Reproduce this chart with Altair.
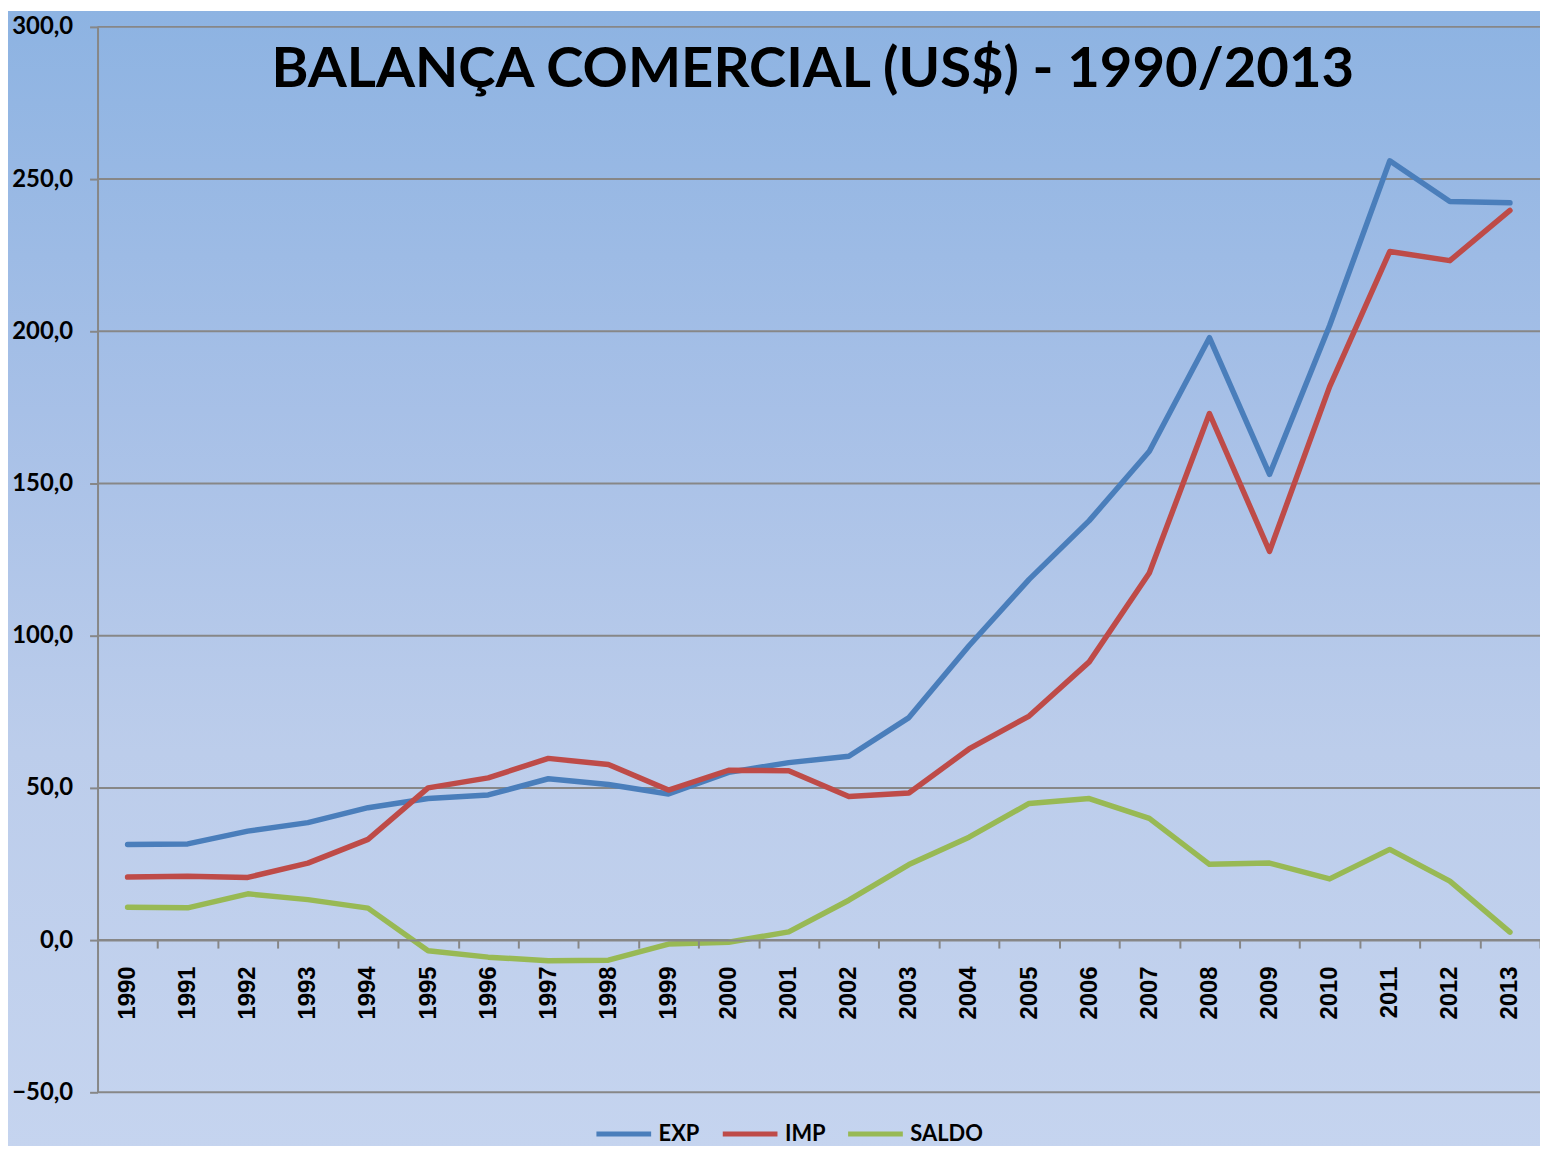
import altair as alt
import pandas as pd

anos = [str(a) for a in range(1990, 2014)]
exp_vals = [31.4, 31.6, 35.8, 38.6, 43.5, 46.5, 47.7, 53.0, 51.1, 48.0, 55.1, 58.3,
            60.4, 73.1, 96.7, 118.5, 137.8, 160.6, 197.9, 153.0, 201.9, 256.0, 242.6, 242.2]
imp_vals = [20.7, 21.0, 20.6, 25.3, 33.1, 50.0, 53.3, 59.7, 57.7, 49.3, 55.8, 55.6,
            47.2, 48.3, 62.8, 73.6, 91.4, 120.6, 173.0, 127.7, 181.8, 226.2, 223.2, 239.7]
saldo_vals = [10.8, 10.6, 15.2, 13.3, 10.5, -3.5, -5.6, -6.8, -6.6, -1.3, -0.7, 2.7,
              13.1, 24.8, 33.8, 44.9, 46.5, 40.0, 24.9, 25.3, 20.1, 29.8, 19.4, 2.6]
series = ["EXP", "IMP", "SALDO"]
cores = ["#4a7ebb", "#be4b48", "#98b954"]
y_ticks = [-50, 0, 50, 100, 150, 200, 250, 300]
titulo = "BALANÇA COMERCIAL (US$) - 1990/2013"

rows = []
for s, vals in zip(series, [exp_vals, imp_vals, saldo_vals]):
    for a, v in zip(anos, vals):
        rows.append({"Ano": a, "Serie": s, "Valor": v})
df = pd.DataFrame(rows)

W, H = 1450, 1071
GRAY = "#878787"
yscale = alt.Scale(domain=[-50, 300], nice=False, zero=False)
yaxis = alt.Axis(
    title=None, values=y_ticks, zindex=1, grid=False,
    domain=True, domainColor=GRAY, domainWidth=2,
    ticks=True, tickSize=8, tickWidth=2, tickColor=GRAY,
    labelFont="Lato", labelFontWeight="bold", labelFontSize=24,
    labelColor="black", labelPadding=17, labelOverlap=False,
    labelExpr="replace(format(datum.value, '.1f'), '.', ',')",
)

gradient = {
    "gradient": "linear",
    "x1": 0, "y1": 0, "x2": 0, "y2": 1,
    "stops": [
        {"offset": 0, "color": "#8db3e2"},
        {"offset": 0.35, "color": "#a7c0e7"},
        {"offset": 0.65, "color": "#bccdeb"},
        {"offset": 1, "color": "#c5d4ef"},
    ],
}

bg = alt.Chart(pd.DataFrame({"k": [0]})).mark_rect(color=gradient).encode(
    x=alt.value(-90), x2=alt.value(W), y=alt.value(-16), y2=alt.value(H + 60)
)

grid = alt.Chart(pd.DataFrame({"Valor": y_ticks})).mark_rule(color=GRAY, strokeWidth=2).encode(
    y=alt.Y("Valor:Q", scale=yscale, axis=yaxis)
)

lines = alt.Chart(df).mark_line(strokeWidth=5.5, strokeCap="round", strokeJoin="round").encode(
    x=alt.X(
        "Ano:O",
        bandPosition=0.5,
        sort=anos,
        scale=alt.Scale(type="band", paddingInner=0, paddingOuter=0),
        axis=alt.Axis(
            title=None, orient="bottom", offset=-153, zindex=1,
            domain=True, domainColor=GRAY, domainWidth=2,
            ticks=True, tickBand="extent", tickSize=8, tickWidth=2, tickColor=GRAY,
            labelAngle=-90, labelFont="Liberation Sans", labelFontWeight="bold",
            labelFontSize=24, labelColor="black", labelPadding=18, labelOverlap=False,
            grid=False,
        ),
    ),
    y=alt.Y("Valor:Q", scale=yscale, axis=yaxis),
    color=alt.Color(
        "Serie:N",
        scale=alt.Scale(domain=series, range=cores),
        legend=alt.Legend(
            title=None, orient="none", legendX=499, legendY=1083, direction="horizontal",
            symbolType="stroke", symbolSize=3025, symbolStrokeWidth=5,
            labelFont="Lato", labelFontWeight="bold", labelFontSize=22, labelColor="black",
            labelOffset=5, columnPadding=12,
        ),
    ),
)

title = alt.Chart(pd.DataFrame({"t": [titulo]})).mark_text(
    font="Lato", fontSize=56.5, fontWeight="bold", color="black",
    baseline="alphabetic", align="center",
).encode(text="t:N", x=alt.value(719), y=alt.value(60))

chart = alt.layer(bg, grid, lines, title).properties(
    width=W, height=H,
    padding={"left": 90, "top": 16, "right": 0, "bottom": 51},
    autosize=alt.AutoSizeParams(type="none"),
    background="white",
).configure_view(stroke=None)

chart.save("out.html", embed_options={"renderer": "svg", "actions": False})
